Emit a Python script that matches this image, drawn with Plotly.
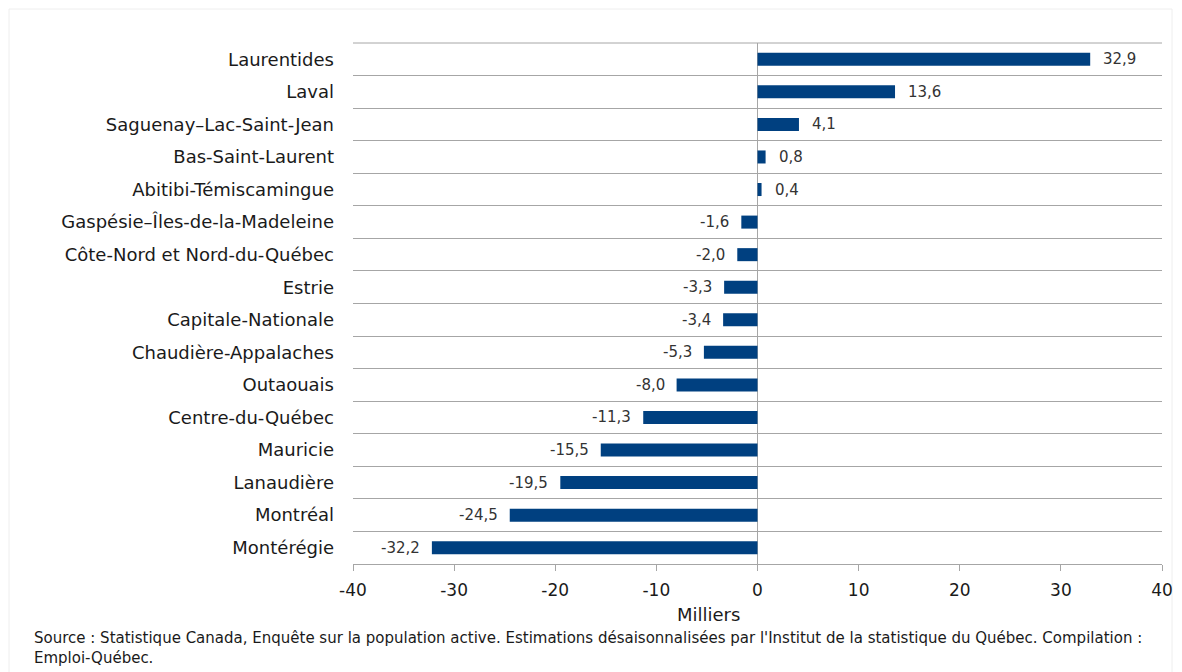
import plotly.graph_objects as go

regions = ["Laurentides", "Laval", "Saguenay–Lac-Saint-Jean", "Bas-Saint-Laurent",
           "Abitibi-Témiscamingue", "Gaspésie–Îles-de-la-Madeleine", "Côte-Nord et Nord-du-Québec",
           "Estrie", "Capitale-Nationale", "Chaudière-Appalaches", "Outaouais", "Centre-du-Québec",
           "Mauricie", "Lanaudière", "Montréal", "Montérégie"]
values = [32.9, 13.6, 4.1, 0.8, 0.4, -1.6, -2.0, -3.3, -3.4, -5.3, -8.0, -11.3, -15.5, -19.5, -24.5, -32.2]
labels = [f"{v:.1f}".replace(".", ",") for v in values]
tick_vals = [-40, -30, -20, -10, 0, 10, 20, 30, 40]
source_lines = [
    "Source : Statistique Canada, Enquête sur la population active. Estimations désaisonnalisées par l'Institut de la statistique du Québec. Compilation :",
    "Emploi-Québec.",
]

FONT = "DejaVu Sans, Liberation Sans, Arial"
TXT = "#1a1a1a"

fig = go.Figure(go.Bar(
    x=values, y=regions, orientation="h",
    marker=dict(color="#004080", line=dict(width=0)),
    width=0.4,
))

for v, r, lab in zip(values, regions, labels):
    fig.add_annotation(
        x=v, y=r, xref="x", yref="y", text=lab, showarrow=False,
        xanchor="left" if v >= 0 else "right", yanchor="middle",
        xshift=11 if v >= 0 else -10,
        font=dict(family=FONT, size=15, color="#333333"),
    )

fig.update_layout(
    width=1182, height=672,
    margin=dict(l=353, r=20, t=43, b=108, autoexpand=False),
    plot_bgcolor="white", paper_bgcolor="white",
    font=dict(family=FONT, color=TXT),
    showlegend=False,
)
fig.update_yaxes(
    autorange="reversed", type="category", automargin=False,
    tickson="boundaries", showgrid=True, gridcolor="#a6a6a6", gridwidth=1,
    ticks="", tickfont=dict(family=FONT, size=18, color=TXT), ticklabelstandoff=18,
    showline=False,
)
fig.update_xaxes(
    range=[-40, 40], tickvals=tick_vals, ticktext=[str(t) for t in tick_vals],
    automargin=False,
    showgrid=False, zeroline=True, zerolinecolor="#a6a6a6", zerolinewidth=1,
    showline=True, linecolor="#a6a6a6", linewidth=1,
    ticks="outside", ticklen=6, tickcolor="#a6a6a6",
    tickfont=dict(family=FONT, size=17, color=TXT), ticklabelstandoff=5,
)
fig.add_shape(
    type="line", xref="paper", yref="paper", x0=0, x1=1, y0=1, y1=1,
    line=dict(color="#a6a6a6", width=1),
)
fig.add_annotation(
    text="Milliers", xref="paper", yref="paper", x=0.44, y=(564 - 614) / 521,
    xanchor="center", yanchor="middle", showarrow=False,
    font=dict(family=FONT, size=18, color=TXT),
)
for i, line in enumerate(source_lines):
    fig.add_annotation(
        text=line, xref="paper", yref="paper", x=(32 - 353) / 809, y=(564 - (638 + 20 * i)) / 521,
        xanchor="left", yanchor="middle", align="left", showarrow=False,
        font=dict(family=FONT, size=15, color=TXT),
    )
fig.add_shape(
    type="rect", xref="paper", yref="paper",
    x0=(9 - 353) / 809, x1=(1172 - 353) / 809, y0=(564 - 680) / 521, y1=(564 - 9) / 521,
    line=dict(color="#eeeeee", width=1), layer="below",
)

fig.write_html("out.html")
